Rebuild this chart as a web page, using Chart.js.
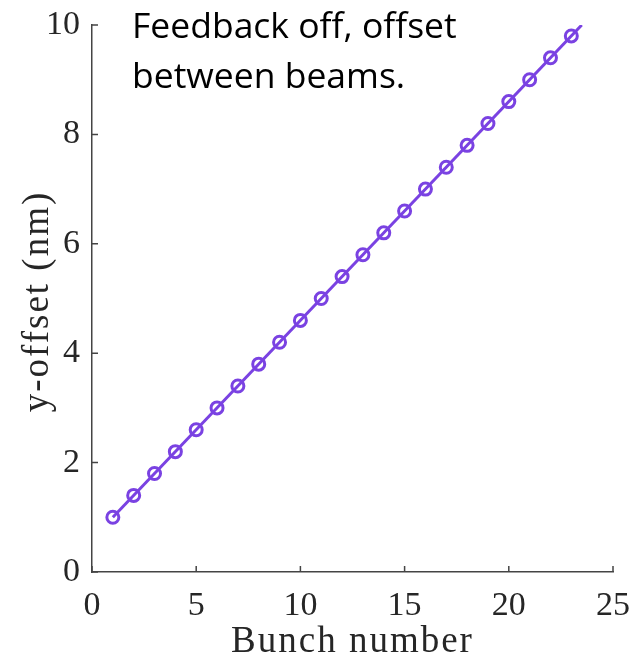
<!DOCTYPE html>
<html>
<head>
<meta charset="utf-8">
<script src="https://cdn.jsdelivr.net/npm/chart.js@4"></script>
<style>
  html, body { margin: 0; padding: 0; background: #fff; }
  #wrap { width: 636px; height: 661px; }
</style>
</head>
<body>
<div id="wrap"><canvas id="offsetChart"></canvas></div>
<script>
// bunch numbers and measured y-offset (nm)
const bunches = [1, 2, 3, 4, 5, 6, 7, 8, 9, 10, 11, 12, 13, 14, 15, 16, 17, 18, 19, 20, 21, 22, 23];
const yOffsets = [1.0, 1.4, 1.8, 2.2, 2.6, 3.0, 3.4, 3.8, 4.2, 4.6, 5.0, 5.4, 5.8, 6.2, 6.6, 7.0, 7.4, 7.8, 8.2, 8.6, 9.0, 9.4, 9.8];
// trend line runs a little past the last bunch
const trendX = [1, 23.5];
const trendY = [1.0, 10.0];
const xTicks = [0, 5, 10, 15, 20, 25];
const yTicks = [0, 2, 4, 6, 8, 10];
const xTitle = 'Bunch number';
const yTitle = 'y-offset (nm)';
const noteLines = ['Feedback off, offset', 'between beams.'];

const purple = '#7a42e2';
const axisColor = '#444';
const textColor = '#262626';
const serif = '"Liberation Serif", "DejaVu Serif", serif';

// inward tick marks, matlab style
const innerTicks = {
    id: 'innerTicks',
    afterDraw(chart) {
        const ctx = chart.ctx;
        const xs = chart.scales.x, ys = chart.scales.y;
        const area = chart.chartArea;
        ctx.save();
        ctx.strokeStyle = axisColor;
        ctx.lineWidth = 1.5;
        ctx.beginPath();
        xTicks.forEach(v => {
            const px = xs.getPixelForValue(v);
            ctx.moveTo(px, area.bottom);
            ctx.lineTo(px, area.bottom - 6);
        });
        yTicks.forEach(v => {
            const py = ys.getPixelForValue(v);
            ctx.moveTo(area.left, py);
            ctx.lineTo(area.left + 6, py);
        });
        ctx.stroke();
        ctx.restore();
    }
};

// axis titles drawn by hand so the letters can be spaced out a bit
const axisTitles = {
    id: 'axisTitles',
    afterDraw(chart) {
        const ctx = chart.ctx;
        const area = chart.chartArea;
        ctx.save();
        ctx.fillStyle = textColor;
        ctx.font = '37px ' + serif;
        ctx.letterSpacing = '2px';
        ctx.textAlign = 'center';
        ctx.textBaseline = 'alphabetic';
        ctx.fillText(xTitle, (area.left + area.right) / 2, 652);
        ctx.translate(48, (area.top + area.bottom) / 2 + 3);
        ctx.rotate(-Math.PI / 2);
        ctx.fillText(yTitle, 0, 0);
        ctx.restore();
    }
};

// text note in the upper left of the plot
const note = {
    id: 'note',
    afterDraw(chart) {
        const ctx = chart.ctx;
        ctx.save();
        ctx.fillStyle = '#000';
        ctx.font = '35.5px "Open Sans", Lato, sans-serif';
        ctx.textBaseline = 'alphabetic';
        ctx.fillText(noteLines[0], 132, 38);
        ctx.fillText(noteLines[1], 132, 88);
        ctx.restore();
    }
};

new Chart(document.getElementById('offsetChart'), {
    type: 'line',
    data: {
        datasets: [
            {
                label: 'trend',
                data: trendX.map((x, i) => ({ x: x, y: trendY[i] })),
                borderColor: purple,
                borderWidth: 3,
                pointRadius: 0,
                tension: 0
            },
            {
                label: 'y-offset',
                data: bunches.map((b, i) => ({ x: b, y: yOffsets[i] })),
                borderColor: purple,
                borderWidth: 0,
                showLine: false,
                pointRadius: 6,
                pointBorderWidth: 3,
                pointBorderColor: purple,
                pointBackgroundColor: 'rgba(0,0,0,0)'
            }
        ]
    },
    options: {
        responsive: true,
        maintainAspectRatio: false,
        animation: false,
        events: [],
        layout: { padding: { top: 25, right: 21, left: 0, bottom: 0 } },
        plugins: {
            legend: { display: false },
            tooltip: { enabled: false }
        },
        scales: {
            x: {
                type: 'linear',
                min: 0,
                max: 25,
                afterBuildTicks: s => { s.ticks = xTicks.map(v => ({ value: v })); },
                afterFit: s => { s.height = 89; },
                grid: { display: false },
                border: { display: true, color: axisColor, width: 1.5 },
                ticks: { color: textColor, padding: 6, font: { family: serif, size: 34 } }
            },
            y: {
                min: 0,
                max: 10,
                afterBuildTicks: s => { s.ticks = yTicks.map(v => ({ value: v })); },
                afterFit: s => { s.width = 92; },
                grid: { display: false },
                border: { display: true, color: axisColor, width: 1.5 },
                ticks: { color: textColor, padding: 4, font: { family: serif, size: 34 } }
            }
        }
    },
    plugins: [innerTicks, axisTitles, note]
});
</script>
</body>
</html>
